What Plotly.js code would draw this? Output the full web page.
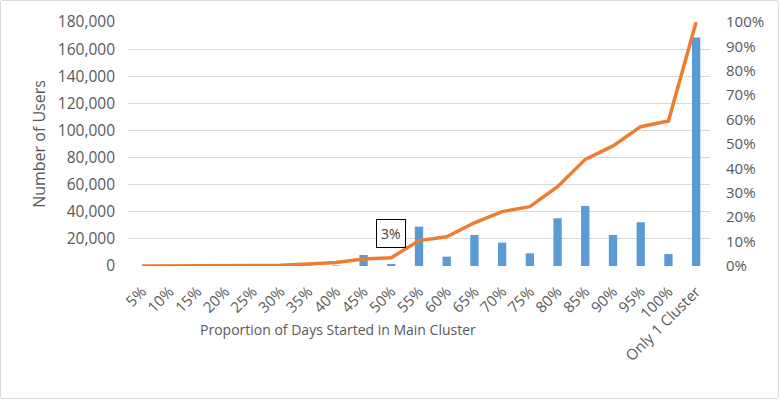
<!DOCTYPE html>
<html>
<head>
<meta charset="utf-8">
<script src="https://cdn.plot.ly/plotly-3.0.1.min.js"></script>
<style>
  html, body { margin: 0; padding: 0; background: #fff; }
  #chart { width: 777px; height: 397px; border: 1px solid #d9d9d9; border-radius: 2px; }
</style>
</head>
<body>
<div id="chart"></div>
<script>
const categories = ["5%","10%","15%","20%","25%","30%","35%","40%","45%","50%","55%","60%","65%","70%","75%","80%","85%","90%","95%","100%","Only 1 Cluster"];
const users = [0, 0, 0, 100, 200, 300, 400, 400, 8100, 1500, 29000, 6900, 22900, 17200, 9400, 35200, 44300, 22900, 32300, 8900, 168500];
const cumulativePct = [0, 0, 0, 0.05, 0.1, 0.3, 0.8, 1.4, 2.9, 3.4, 10.4, 12.0, 17.7, 22.3, 24.3, 32.5, 43.7, 49.2, 57.1, 59.4, 100];
const leftTicks = [0, 20000, 40000, 60000, 80000, 100000, 120000, 140000, 160000, 180000];
const labelCategory = "50%";
const labelText = "3%";
const xTitle = "Proportion of Days Started in Main Cluster";

const font = { family: "Open Sans, sans-serif", color: "#595959" };

const bars = {
  type: "bar", x: categories, y: users, yaxis: "y",
  marker: { color: "#5B9BD5" }, width: 0.3, hoverinfo: "x+y"
};
const line = {
  type: "scatter", mode: "lines", x: categories, y: cumulativePct, yaxis: "y2",
  line: { color: "#ED7D31", width: 3.5 }, cliponaxis: false
};

const layout = {
  width: 777, height: 397,
  margin: { l: 127, r: 68, t: 21, b: 132 },
  paper_bgcolor: "#fff", plot_bgcolor: "#fff",
  showlegend: false,
  font: Object.assign({ size: 14 }, font),
  bargap: 0.7,
  xaxis: {
    type: "category", tickangle: -45, showgrid: false, zeroline: false, showline: false,
    ticks: "", tickfont: Object.assign({ size: 15 }, font), ticklabelstandoff: 13
  },
  yaxis: {
    range: [0, 180000], tickvals: leftTicks, tickformat: ",d",
    showgrid: true, gridcolor: "#d9d9d9", gridwidth: 1, zeroline: false, showline: false, ticks: "",
    tickfont: Object.assign({ size: 15.5 }, font), ticklabelstandoff: 12,
    title: { text: "Number of Users", font: Object.assign({ size: 16 }, font), standoff: 8 }
  },
  yaxis2: {
    overlaying: "y", side: "right", range: [0, 100], dtick: 10, ticksuffix: "%",
    showgrid: false, zeroline: false, showline: false, ticks: "",
    tickfont: Object.assign({ size: 15 }, font), ticklabelstandoff: 15
  },
  annotations: [{
    x: labelCategory, y: cumulativePct[categories.indexOf(labelCategory)], xref: "x", yref: "y2",
    text: labelText, showarrow: false, yshift: 24, xshift: 0,
    bordercolor: "#000", borderwidth: 1, borderpad: 4, bgcolor: "#fff",
    font: Object.assign({ size: 14 }, font, { color: "#404040" })
  }, {
    x: 0.5, y: -0.262, xref: "paper", yref: "paper", xanchor: "center", yanchor: "middle",
    xshift: -81, text: xTitle, showarrow: false,
    font: Object.assign({ size: 14 }, font)
  }]
};

Plotly.newPlot("chart", [bars, line], layout, { displayModeBar: false, staticPlot: true });
</script>
</body>
</html>
